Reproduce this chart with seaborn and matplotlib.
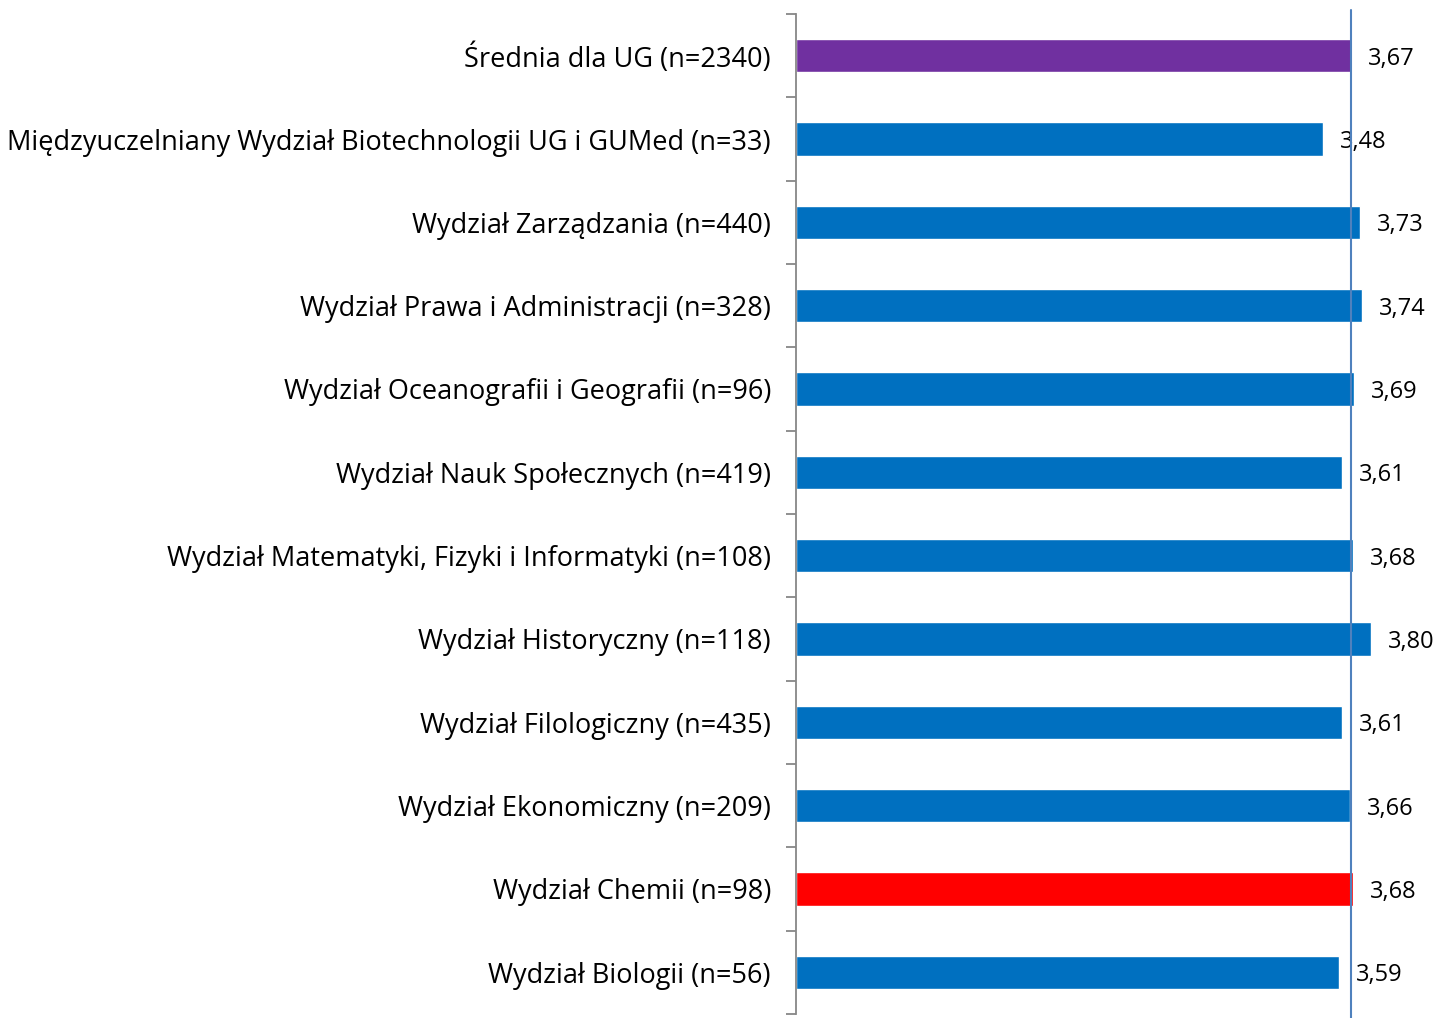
import matplotlib
matplotlib.use("Agg")
import matplotlib.pyplot as plt
import seaborn as sns
import pandas as pd

categories = [
    "Średnia dla UG (n=2340)",
    "Międzyuczelniany Wydział Biotechnologii UG i GUMed (n=33)",
    "Wydział Zarządzania (n=440)",
    "Wydział Prawa i Administracji (n=328)",
    "Wydział Oceanografii i Geografii (n=96)",
    "Wydział Nauk Społecznych (n=419)",
    "Wydział Matematyki, Fizyki i Informatyki (n=108)",
    "Wydział Historyczny (n=118)",
    "Wydział Filologiczny (n=435)",
    "Wydział Ekonomiczny (n=209)",
    "Wydział Chemii (n=98)",
    "Wydział Biologii (n=56)",
]
values = [3.67, 3.48, 3.73, 3.74, 3.69, 3.61, 3.68, 3.80, 3.61, 3.66, 3.68, 3.59]
bar_colors = ["#7030A0"] + ["#0070C0"] * 9 + ["#FF0000", "#0070C0"]
reference_value = 3.67

sns.set_theme(style="white")
plt.rcParams["font.family"] = ["Open Sans", "DejaVu Sans"]

df = pd.DataFrame({"cat": categories, "val": values})

W, H = 1436, 1018
fig = plt.figure(figsize=(W / 100, H / 100), dpi=100)
ax = fig.add_axes([796 / W, 1 - 1014 / H, 1 - 796 / W, 1000 / H])

sns.barplot(data=df, y="cat", x="val", hue="cat", palette=bar_colors,
            order=categories, hue_order=categories, legend=False,
            width=0.4, orient="h", ax=ax, saturation=1)

ax.set_xlim(0, 640 / 151.3)
ax.set_ylim(11.5, -0.5)
ax.set_xlabel("")
ax.set_ylabel("")
ax.set_xticks([])
ax.set_yticks([i - 0.5 for i in range(len(categories) + 1)])
ax.set_yticklabels([])
ax.set_yticks(range(len(categories)), minor=True)
ax.set_yticklabels(categories, minor=True, fontsize=19.5, color="black")
ax.tick_params(axis="y", which="major", left=True, length=7, width=1.3, color="#878787")
ax.tick_params(axis="y", which="minor", left=False, length=0, pad=18)

for s in ["top", "right", "bottom"]:
    ax.spines[s].set_visible(False)
ax.spines["left"].set_color("#878787")
ax.spines["left"].set_linewidth(1.3)

ax.axvline(reference_value, ymin=-0.004, ymax=1.004, color="#4F81BD", lw=1.5, clip_on=False, zorder=5)

for i, v in enumerate(values):
    ax.annotate(f"{v:.2f}".replace(".", ","), xy=(v, i), xytext=(17, -3),
                textcoords="offset pixels",
                va="center", ha="left", fontsize=17, color="black")

fig.savefig("out.png", dpi=100)
